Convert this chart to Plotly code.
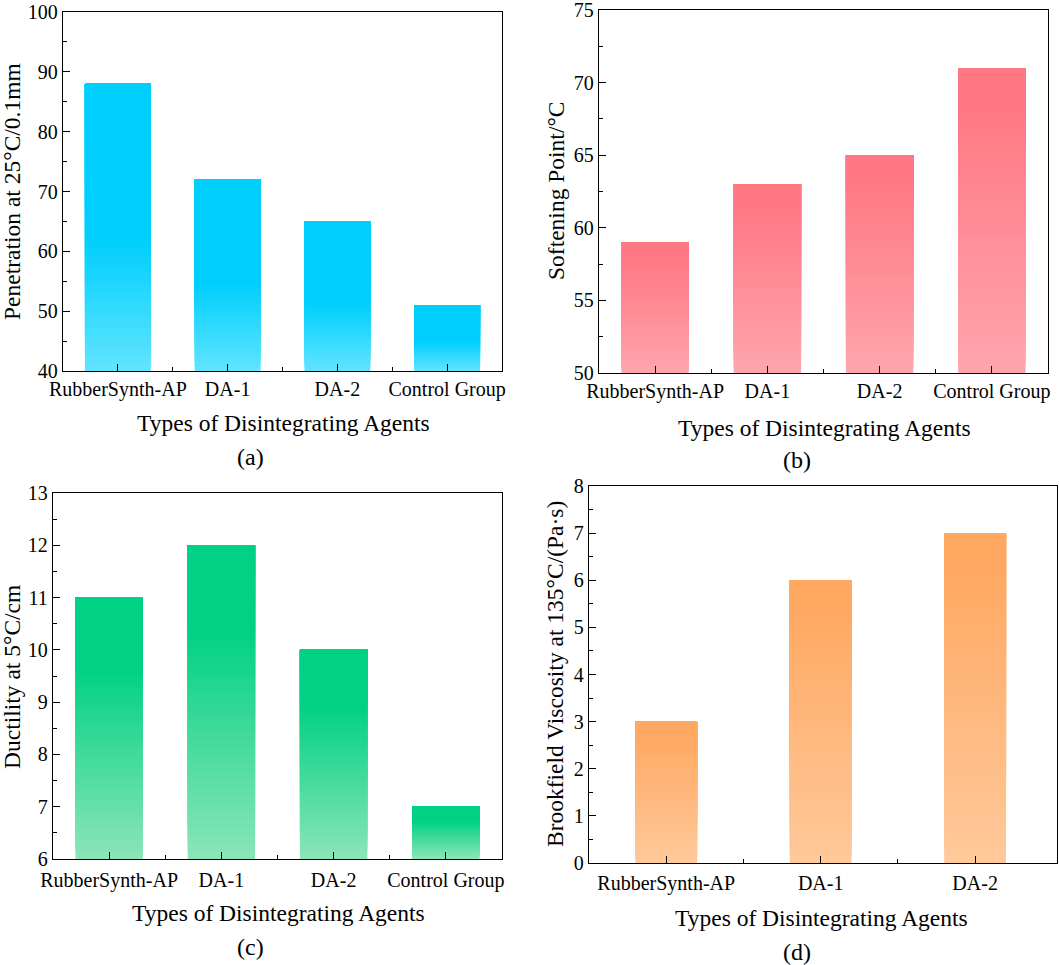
import plotly.graph_objects as go

W, H = 1059, 965
FONT = "Liberation Serif, Times New Roman, serif"

# ---- data ----
categories_abc = ["RubberSynth-AP", "DA-1", "DA-2", "Control Group"]
categories_d = ["RubberSynth-AP", "DA-1", "DA-2"]
penetration = [88, 72, 65, 51]
softening = [59, 63, 65, 71]
ductility = [11, 12, 10, 7]
viscosity = [3, 6, 7]
xtitle = "Types of Disintegrating Agents"

panels = [
    dict(cats=categories_abc, vals=penetration, yr=[40, 100], dt=10, mdt=5,
         ytitle="Penetration at 25°C/0.1mm", label="(a)",
         box=(63, 502, 12, 371), top=(0, 207, 253), bot=(98, 228, 255), solid=0.45,
         width=0.6, xr=[-0.5, 3.5], yt=(12, 192), xt=(283, 423), lb=(250, 457), xs_off=0),
    dict(cats=categories_abc, vals=softening, yr=[50, 75], dt=5, mdt=2.5,
         ytitle="Softening Point/°C", label="(b)",
         box=(599, 1048, 10, 373), top=(255, 120, 132), bot=(255, 165, 172), solid=0.88,
         width=0.6, xr=[-0.5, 3.5], yt=(556, 191), xt=(824, 428), lb=(797, 460), xs_off=0),
    dict(cats=categories_abc, vals=ductility, yr=[6, 13], dt=1, mdt=0.5,
         ytitle="Ductility at 5°C/cm", label="(c)",
         box=(53, 502, 493, 859), top=(0, 209, 132), bot=(140, 229, 185), solid=0.73,
         width=0.6, xr=[-0.5, 3.5], yt=(12, 677), xt=(278, 913), lb=(250, 947), xs_off=3),
    dict(cats=categories_d, vals=viscosity, yr=[0, 8], dt=1, mdt=0.5,
         ytitle="Brookfield Viscosity at 135°C/(Pa·s)", label="(d)",
         box=(589, 1057, 486, 863), top=(255, 168, 98), bot=(255, 201, 155), solid=0.9,
         width=0.4, xr=[-0.5, 2.53], yt=(555, 674), xt=(821, 918), lb=(797, 952), xs_off=2),
]

NSEG = 40


def mix(c1, c2, f):
    return "rgb(%d,%d,%d)" % tuple(round(a + (b - a) * f) for a, b in zip(c1, c2))


fig = go.Figure()
annotations = []
for i, p in enumerate(panels):
    n = "" if i == 0 else str(i + 1)
    xa, ya = "x" + n, "y" + n
    x0, x1, y0, y1 = p["box"]
    ymin = p["yr"][0]
    xs = list(range(len(p["cats"])))
    for k in range(NSEG):
        t = (k + 0.5) / NSEG
        f = min(t / p["solid"], 1.0)
        color = mix(p["bot"], p["top"], f)
        bases = [ymin + (v - ymin) * k / NSEG for v in p["vals"]]
        heights = [(v - ymin) * (1 - k / NSEG) for v in p["vals"]]
        fig.add_trace(go.Bar(x=xs, y=heights, base=bases, width=p["width"],
                             marker=dict(color=color, line=dict(width=0)),
                             xaxis=xa, yaxis=ya, showlegend=False, hoverinfo="skip"))
    axline = dict(showline=True, linecolor="black", linewidth=1.3, mirror=True,
                  showgrid=False, zeroline=False, ticks="inside", tickcolor="black",
                  tickwidth=1.3, automargin=False, ticklabeloverflow="allow",
                  tickfont=dict(family=FONT, size=20, color="black"))
    fig.layout["xaxis" + n] = dict(
        axline, domain=[x0 / W, x1 / W], anchor=ya, range=p["xr"],
        tickmode="array", tickvals=xs, ticktext=p["cats"], ticklen=7,
        ticklabelstandoff=p["xs_off"],
        minor=dict(ticks="inside", ticklen=4, tickcolor="black", tickwidth=1.3,
                   tickmode="array", tickvals=[j + 0.5 for j in xs[:-1]]))
    fig.layout["yaxis" + n] = dict(
        axline, domain=[1 - y1 / H, 1 - y0 / H], anchor=xa, range=p["yr"],
        tickmode="linear", tick0=ymin, dtick=p["dt"], ticklen=7,
        minor=dict(ticks="inside", ticklen=4, tickcolor="black", tickwidth=1.3,
                   dtick=p["mdt"], tick0=ymin))
    annotations.append(dict(text=p["ytitle"], x=p["yt"][0] / W, y=1 - p["yt"][1] / H,
                            xref="paper", yref="paper", textangle=-90, showarrow=False,
                            xanchor="center", yanchor="middle",
                            font=dict(family=FONT, size=23.5, color="black")))
    annotations.append(dict(text=xtitle, x=p["xt"][0] / W, y=1 - p["xt"][1] / H,
                            xref="paper", yref="paper", showarrow=False,
                            xanchor="center", yanchor="middle",
                            font=dict(family=FONT, size=23.5, color="black")))
    annotations.append(dict(text=p["label"], x=p["lb"][0] / W, y=1 - p["lb"][1] / H,
                            xref="paper", yref="paper", showarrow=False,
                            xanchor="center", yanchor="middle",
                            font=dict(family=FONT, size=24, color="black")))

fig.update_layout(width=W, height=H, margin=dict(l=0, r=0, t=0, b=0, autoexpand=False),
                  paper_bgcolor="white", plot_bgcolor="white",
                  barmode="overlay", annotations=annotations)

fig.write_html("out.html", config={"displayModeBar": False},
               post_script="document.body.style.margin='0';document.body.style.overflow='hidden';")
